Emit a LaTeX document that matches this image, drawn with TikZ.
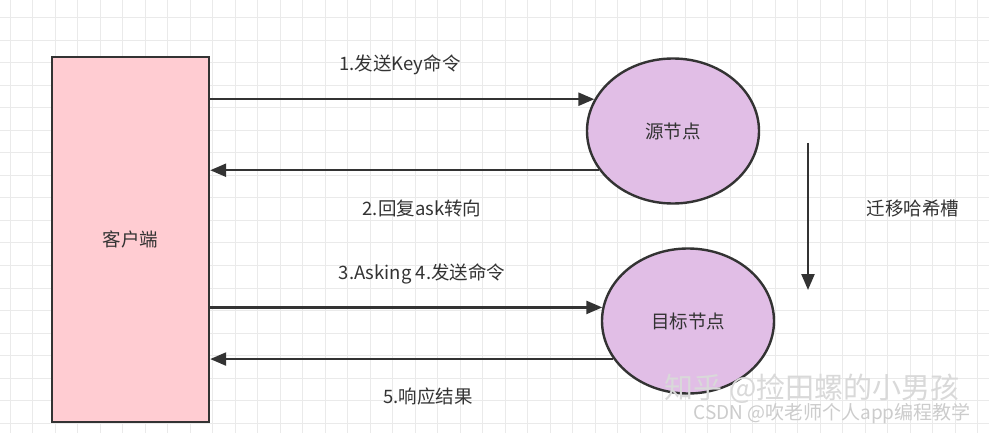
\documentclass[tikz,border=0pt]{standalone}
\usepackage{fontspec}
\setmainfont{Noto Sans CJK SC}
\usetikzlibrary{arrows.meta,shapes.geometric}
\definecolor{ink}{HTML}{333333}
\definecolor{clientpink}{HTML}{FFCCD2}
\definecolor{nodelilac}{HTML}{E1BEE6}
\definecolor{gridgray}{HTML}{EAEAEA}
\newcommand{\lbl}{\fontsize{18.5}{22}\selectfont}

\begin{document}
\begin{tikzpicture}[x=1pt,y=-1pt,
    box/.style={draw=ink,line width=2.4pt,fill=clientpink,minimum width=157pt,
      minimum height=365pt,inner sep=0pt,font=\lbl,text=ink},
    slot/.style={ellipse,draw=ink,line width=2.4pt,fill=nodelilac,minimum width=172pt,
      minimum height=145pt,inner sep=0pt,font=\lbl,text=ink},
    arr/.style={draw=ink,line width=2.4pt,-{Triangle[length=16pt,width=13pt]}},
    txt/.style={font=\lbl,text=ink}]
     \useasboundingbox (0,0) rectangle (989,433);
     \fill[white] (0,0) rectangle (989,433);
     \foreach \i in {0,...,43} \draw[gridgray,line width=1pt] (10+22.5*\i,0) -- (10+22.5*\i,433);
     \foreach \j in {0,...,18} \draw[gridgray,line width=1pt] (0,18+22.5*\j) -- (989,18+22.5*\j);
     \node[box]  (client) at (130.5,239.5) {客户端};
     \node[slot] (src)    at (673,131)     {源节点};
     \node[slot] (dst)    at (688,321)     {目标节点};
     \draw[arr] (client.east |- src.158) -- (src.158);
     \draw[arr] (src.208) -- (client.east |- src.208);
     \draw[arr] (client.east |- dst.171) -- (dst.171);
     \draw[arr] (dst.207) -- (client.east |- dst.207);
     \coordinate (migtop) at (808,143);
     \coordinate (migbot) at (808,290);
     \draw[arr] (migtop) -- (migbot);
     \node[txt] (l1) at (400,65)  {1.发送Key命令};
     \node[txt] (l2) at (422,208) {2.回复ask转向};
     \node[txt] (l3) at (422,274) {3.Asking 4.发送命令};
     \node[txt] (l5) at (428,396) {5.响应结果};
     \node[txt] (mig) at (913,208) {迁移哈希槽};
     \node[gray!30,inner sep=0pt,font=\fontsize{29}{30}\selectfont] (zh) at (812,389) {知乎 @捡田螺的小男孩};
     \node[gray!40,inner sep=0pt,font=\fontsize{19}{20}\selectfont] (csdn) at (832,414) {CSDN @吹老师个人app编程教学};
\end{tikzpicture}
\end{document}
